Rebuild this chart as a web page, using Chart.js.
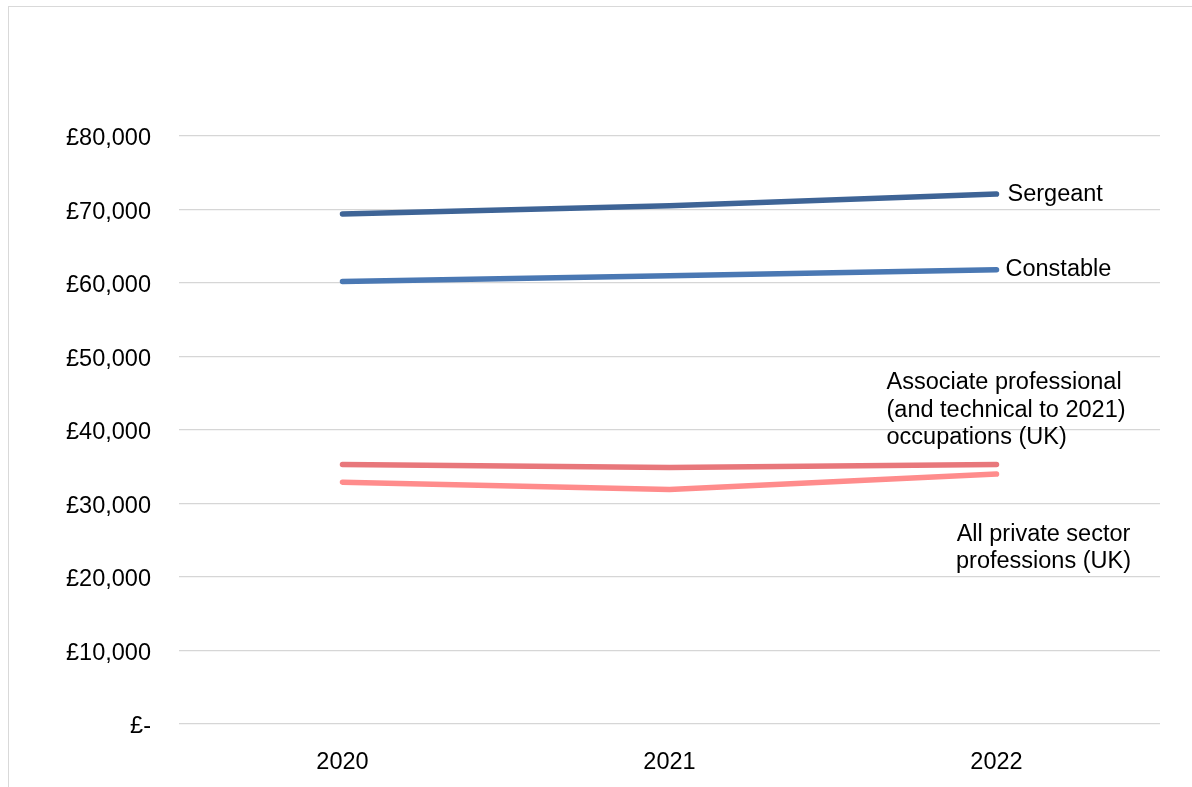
<!DOCTYPE html>
<html>
<head>
<meta charset="utf-8">
<script src="https://cdn.jsdelivr.net/npm/chart.js@4/dist/chart.umd.min.js"></script>
<style>
    html, body { margin:0; padding:0; background:#fff; overflow:hidden; }
    #frame { position:absolute; left:8px; top:6px; width:1300px; height:900px;
             border-left:1px solid #d9d9d9; border-top:1px solid #d9d9d9; }
    #chart { position:absolute; left:0; top:0; }
</style>
</head>
<body>
<div id="frame"></div>
<canvas id="chart" width="1192" height="787"></canvas>
<script>
// --- Data ---
const years = ["2020", "2021", "2022"];
const sergeant  = [69400, 70500, 72100];
const constable = [60200, 61000, 61800];
const associate = [35300, 34900, 35300];
const privateSector = [32900, 31900, 34000];

const seriesNames = [
    ["Sergeant"],
    ["Constable"],
    ["Associate professional", "(and technical to 2021)", "occupations (UK)"],
    ["All private sector", "professions (UK)"]
];
const yTicks = [0, 10000, 20000, 30000, 40000, 50000, 60000, 70000, 80000];

const FONT = "'Liberation Sans', Arial, sans-serif";
const FONT_SIZE = 23.5;

// end labels: dx/dy are offsets from the last point of each line
const labelStyle = [
    {dx:11, dy:0,   align:"left"},
    {dx:9,  dy:0,   align:"left"},
    {dx:-110, dy:-82, align:"left"},
    {dx:47, dy:60,  align:"center"}
];

const endLabels = {
    id:"endLabels",
    afterDatasetsDraw(chart){
        const ctx = chart.ctx;
        ctx.save();
        ctx.font = FONT_SIZE + "px " + FONT;
        ctx.fillStyle = "#000";
        ctx.textBaseline = "middle";
        chart.data.datasets.forEach((ds, i) => {
            const meta = chart.getDatasetMeta(i);
            const last = meta.data[meta.data.length - 1];
            const st = labelStyle[i];
            ctx.textAlign = st.align;
            seriesNames[i].forEach((line, j) => {
                ctx.fillText(line, last.x + st.dx, last.y + st.dy + j * 27.5);
            });
        });
        ctx.restore();
    }
};

function line(label, data, color){
    return {label, data, borderColor:color, backgroundColor:color, borderWidth:5.5,
            borderCapStyle:"round", borderJoinStyle:"round", tension:0,
            pointRadius:0, fill:false};
}

new Chart(document.getElementById("chart").getContext("2d"), {
    type:"line",
    data:{
        labels:years,
        datasets:[
            line(seriesNames[0].join(" "), sergeant, "#3e6496"),
            line(seriesNames[1].join(" "), constable, "#4a78b3"),
            line(seriesNames[2].join(" "), associate, "#e8777b"),
            line(seriesNames[3].join(" "), privateSector, "#ff8c8c")
        ]
    },
    options:{
        responsive:false,
        animation:false,
        layout:{padding:{top:136, right:32, bottom:0, left:0}},
        plugins:{legend:{display:false}, tooltip:{enabled:false}},
        scales:{
            x:{
                offset:true,
                grid:{display:false},
                border:{display:false},
                ticks:{color:"#000", font:{family:FONT, size:FONT_SIZE}, padding:16},
                afterFit(scale){ scale.height = 63; }
            },
            y:{
                min:0, max:80000,
                afterBuildTicks(scale){ scale.ticks = yTicks.map(v => ({value:v})); },
                grid:{color:"#d6d6d6", lineWidth:1.3, drawTicks:false},
                border:{display:false},
                ticks:{
                    color:"#000", font:{family:FONT, size:FONT_SIZE}, padding:28,
                    labelOffset:3,
                    callback:v => v === 0 ? "£-" : "£" + v.toLocaleString("en-GB")
                },
                afterFit(scale){ scale.width = 179; }
            }
        }
    },
    plugins:[endLabels]
});
</script>
</body>
</html>
